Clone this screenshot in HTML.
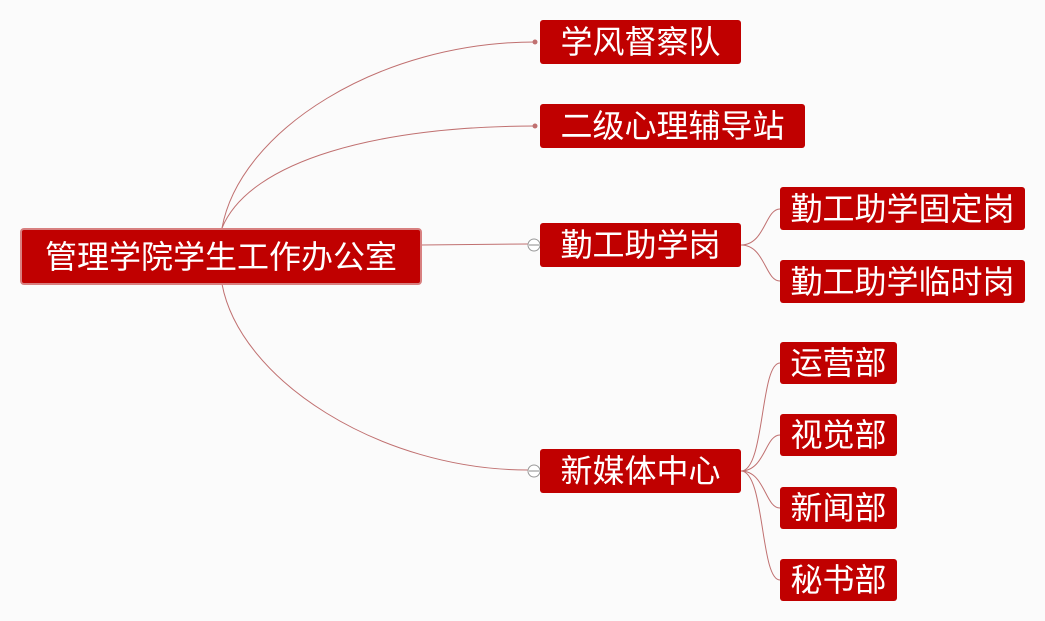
<!DOCTYPE html>
<html><head><meta charset="utf-8"><style>
body{margin:0;width:1045px;height:621px;background:#fbfbfb;overflow:hidden;position:relative;font-family:"Liberation Sans","Noto Sans CJK SC",sans-serif}
.b{position:absolute;background:#c00000;color:#fff;border-radius:3px;font-size:32px;line-height:1;display:flex;align-items:center;justify-content:center;box-sizing:border-box;white-space:nowrap}
svg{position:absolute;left:0;top:0}
</style></head><body>
<svg width="1045" height="621">
<g fill="none" stroke="#c07070" stroke-width="1">
<path d="M222 228 C240 130 380 42 535 42"/>
<path d="M222 228 C250 160 380 126 535 126"/>
<path d="M421 245 L528 244"/>
<path d="M222 284 C240 380 380 470 528 470"/>
<path d="M741 245 C765 245 765 209 780 209"/>
<path d="M741 245 C765 245 765 281 780 281"/>
<path d="M741 471 C765 471 760 363 780 363"/>
<path d="M741 471 C765 471 765 435 780 435"/>
<path d="M741 471 C765 471 765 508 780 508"/>
<path d="M741 471 C765 471 760 580 780 580"/>
</g>
<circle cx="535" cy="42" r="2.5" fill="#c07070"/>
<circle cx="535" cy="126" r="2.5" fill="#c07070"/>
<circle cx="534" cy="245" r="6" fill="#fff" stroke="#999"/><path d="M529 245h10" stroke="#888"/>
<circle cx="534" cy="471" r="6" fill="#fff" stroke="#999"/><path d="M529 471h10" stroke="#888"/>
</svg>
<div class="b" style="left:20px;top:228px;width:402px;height:57px;border:2px solid #d88080;border-radius:4px">管理学院学生工作办公室</div>
<div class="b" style="left:540px;top:20px;width:201px;height:44px">学风督察队</div>
<div class="b" style="left:540px;top:104px;width:265px;height:44px">二级心理辅导站</div>
<div class="b" style="left:540px;top:223px;width:201px;height:44px">勤工助学岗</div>
<div class="b" style="left:540px;top:449px;width:201px;height:44px">新媒体中心</div>
<div class="b" style="left:780px;top:187px;width:245px;height:43px">勤工助学固定岗</div>
<div class="b" style="left:780px;top:260px;width:245px;height:43px">勤工助学临时岗</div>
<div class="b" style="left:780px;top:342px;width:117px;height:42px">运营部</div>
<div class="b" style="left:780px;top:414px;width:117px;height:42px">视觉部</div>
<div class="b" style="left:780px;top:487px;width:117px;height:42px">新闻部</div>
<div class="b" style="left:780px;top:559px;width:117px;height:42px">秘书部</div>
</body></html>
